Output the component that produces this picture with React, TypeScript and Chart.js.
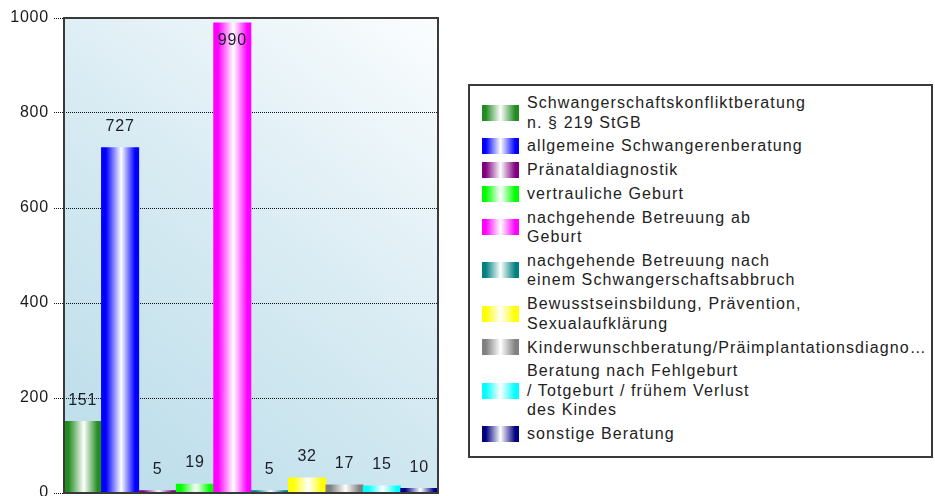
import React, { useEffect, useRef } from "react";
import { Chart, registerables } from "chart.js";

Chart.register(...registerables);

const categories: string[][] = [
  ["Schwangerschaftskonfliktberatung", "n. § 219 StGB"],
  ["allgemeine Schwangerenberatung"],
  ["Pränataldiagnostik"],
  ["vertrauliche Geburt"],
  ["nachgehende Betreuung ab", "Geburt"],
  ["nachgehende Betreuung nach", "einem Schwangerschaftsabbruch"],
  ["Bewusstseinsbildung, Prävention,", "Sexualaufklärung"],
  ["Kinderwunschberatung/Präimplantationsdiagno…"],
  ["Beratung nach Fehlgeburt", "/ Totgeburt / frühem Verlust", "des Kindes"],
  ["sonstige Beratung"],
];
const values: number[] = [151, 727, 5, 19, 990, 5, 32, 17, 15, 10];
const colors: string[] = [
  "#228b22",
  "#0000ff",
  "#800080",
  "#00ff00",
  "#ff00ff",
  "#008080",
  "#ffff00",
  "#808080",
  "#00ffff",
  "#000080",
];
const yTicks: number[] = [0, 200, 400, 600, 800, 1000];

const FONT = '"Liberation Sans", Arial, sans-serif';

function barGradient(ctx: CanvasRenderingContext2D, x0: number, x1: number, color: string) {
  const g = ctx.createLinearGradient(x0, 0, x1, 0);
  g.addColorStop(0, color);
  g.addColorStop(0.12, color);
  g.addColorStop(0.53, "#ffffff");
  g.addColorStop(0.9, color);
  g.addColorStop(1, color);
  return g;
}

const framePlugin = {
  id: "frame",
  beforeDraw(chart: any) {
    const { ctx, chartArea: a } = chart;
    (ctx as any).letterSpacing = "0.8px";
    const g = ctx.createLinearGradient(a.left, a.bottom, a.right, a.top);
    g.addColorStop(0, "#b8dce9");
    g.addColorStop(0.5, "#d6eaf2");
    g.addColorStop(1, "#fbfdfe");
    ctx.save();
    ctx.fillStyle = g;
    ctx.fillRect(a.left, a.top, a.right - a.left, a.bottom - a.top);
    ctx.restore();
  },
  afterDatasetsDraw(chart: any) {
    const { ctx, chartArea: a } = chart;
    ctx.save();
    ctx.strokeStyle = "#3a3a3a";
    ctx.lineWidth = 2;
    ctx.strokeRect(a.left, a.top, a.right - a.left, a.bottom - a.top);
    const meta = chart.getDatasetMeta(0);
    ctx.font = `16px ${FONT}`;
    ctx.fillStyle = "#1c1c28";
    ctx.textAlign = "center";
    ctx.textBaseline = "middle";
    meta.data.forEach((el: any, i: number) => {
      const top = el.y;
      let y = top - 21;
      if (y - 9 < a.top) y = top + 18;
      ctx.fillText(String(values[i]), el.x, y);
    });
    ctx.restore();
  },
};

function Legend() {
  return (
    <div
      style={{
        position: "absolute",
        left: 468,
        top: 84,
        width: 461,
        height: 363,
        border: "2px solid #3a3a3a",
        background: "#fff",
        paddingTop: 7,
        boxSizing: "content-box",
      }}
    >
      {categories.map((lines, i) => (
        <div
          key={i}
          style={{ display: "flex", alignItems: "center", marginBottom: 4.3 }}
        >
          <div
            style={{
              width: 37,
              height: 16,
              marginLeft: 12,
              flex: "none",
              background: `linear-gradient(to right, ${colors[i]} 0%, ${colors[i]} 10%, #ffffff 50%, ${colors[i]} 90%, ${colors[i]} 100%)`,
            }}
          />
          <div
            style={{
              marginLeft: 8,
              font: `16px ${FONT}`,
              letterSpacing: "1.1px",
              lineHeight: "19.5px",
              color: "#222",
              whiteSpace: "pre",
            }}
          >
            {lines.join("\n")}
          </div>
        </div>
      ))}
    </div>
  );
}

export default function App() {
  const ref = useRef<HTMLCanvasElement | null>(null);

  useEffect(() => {
    if (!ref.current) return;
    const chart = new Chart(ref.current, {
      type: "bar",
      data: {
        labels: categories,
        datasets: [
          {
            data: values,
            borderWidth: 0,
            categoryPercentage: 1,
            barPercentage: 1,
            backgroundColor: (c: any) => {
              const ch = c.chart;
              const xs = ch.scales?.x;
              const i = c.dataIndex ?? 0;
              if (!xs || !ch.chartArea) return colors[i];
              const cx = xs.getPixelForValue(i);
              const w = (xs.right - xs.left) / values.length;
              return barGradient(ch.ctx, cx - w / 2, cx + w / 2, colors[i]);
            },
          },
        ],
      },
      options: {
        animation: false,
        responsive: false,
        devicePixelRatio: 1,
        layout: { padding: { top: 18, bottom: 27, left: 0, right: 22 } },
        plugins: {
          legend: { display: false },
          tooltip: { enabled: false },
        },
        scales: {
          x: { display: false },
          y: {
            min: 0,
            max: 1000,
            afterBuildTicks: (scale: any) => {
              scale.ticks = yTicks.map((v) => ({ value: v }));
            },
            afterFit: (scale: any) => {
              scale.width = 64;
              scale.paddingTop = 0;
              scale.paddingBottom = 0;
            },
            ticks: {
              padding: 5,
              color: "#1a1a1a",
              font: { family: FONT, size: 16 },
              callback: (v: any) => String(v),
            },
            grid: {
              color: "#111",
              lineWidth: 1,
              drawTicks: true,
              tickLength: 10,
              tickColor: "#111",
              tickBorderDash: [1, 1],
              tickWidth: 1,
            },
            border: { display: false, dash: [1, 1] },
          },
        },
      },
      plugins: [framePlugin],
    });
    return () => chart.destroy();
  }, []);

  return (
    <div
      style={{
        position: "fixed",
        left: 0,
        top: 0,
        width: 935,
        height: 496,
        overflow: "hidden",
        background: "#fff",
        fontFamily: FONT,
      }}
    >
      <canvas
        ref={ref}
        width={460}
        height={520}
        style={{ position: "absolute", left: 0, top: 0, width: 460, height: 520 }}
      />
      <Legend />
    </div>
  );
}
